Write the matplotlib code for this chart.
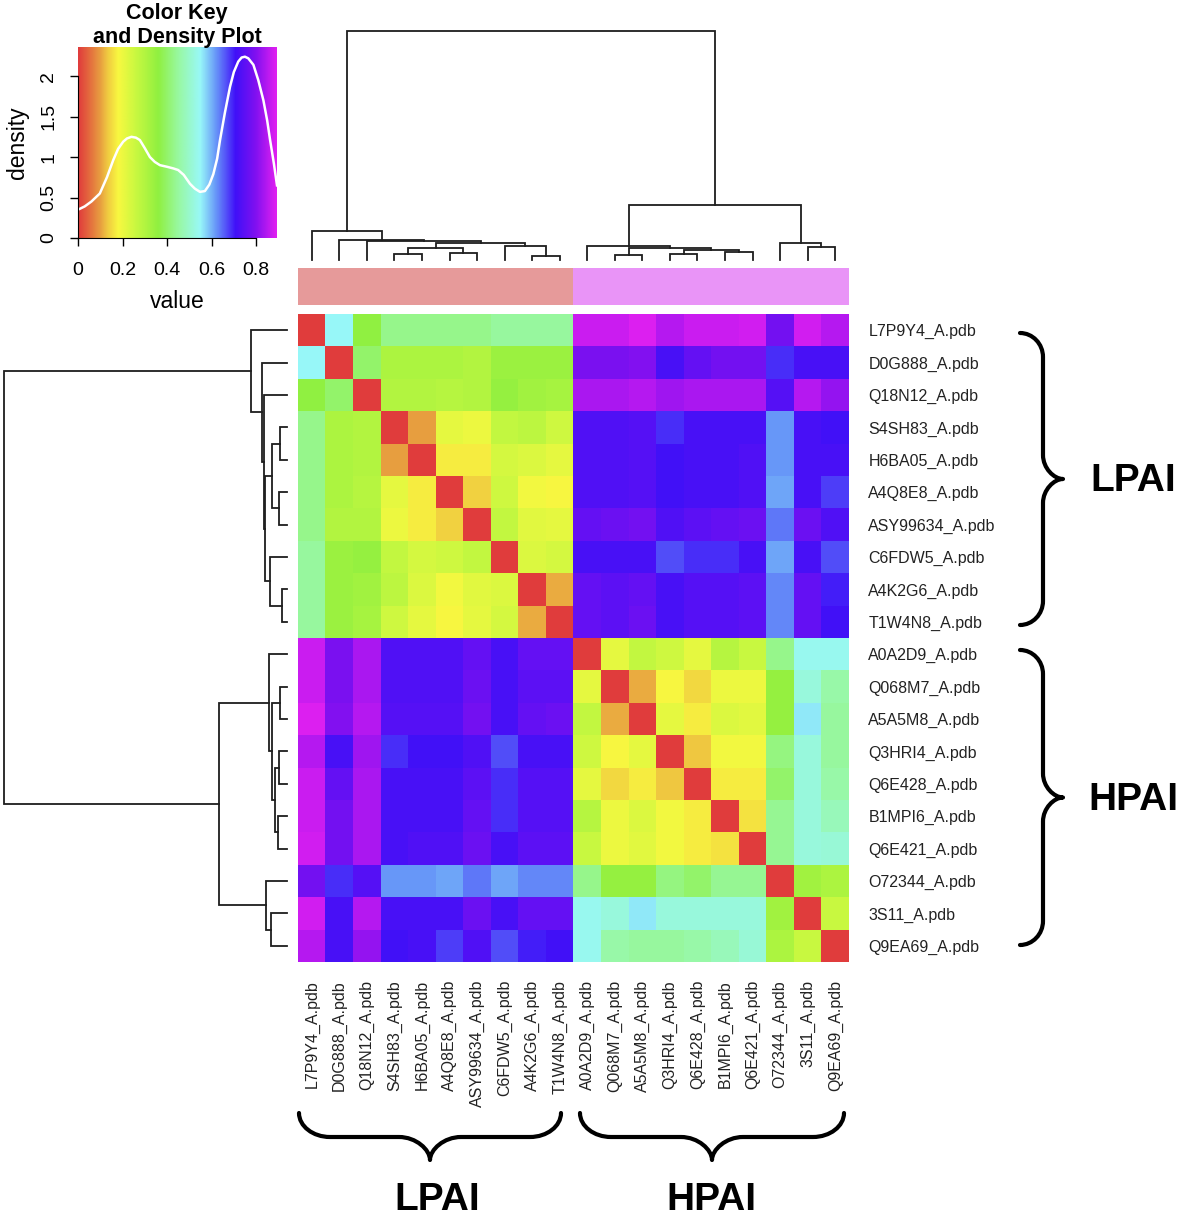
import numpy as np
import matplotlib
matplotlib.use("Agg")
import matplotlib.pyplot as plt
from matplotlib.colors import LinearSegmentedColormap, to_rgb
from matplotlib.path import Path
from matplotlib.patches import PathPatch

plt.rcParams['font.family'] = ['Liberation Sans', 'DejaVu Sans']

# ---------------- data ----------------
labels = ["L7P9Y4_A.pdb", "D0G888_A.pdb", "Q18N12_A.pdb", "S4SH83_A.pdb", "H6BA05_A.pdb",
          "A4Q8E8_A.pdb", "ASY99634_A.pdb", "C6FDW5_A.pdb", "A4K2G6_A.pdb", "T1W4N8_A.pdb",
          "A0A2D9_A.pdb", "Q068M7_A.pdb", "A5A5M8_A.pdb", "Q3HRI4_A.pdb", "Q6E428_A.pdb",
          "B1MPI6_A.pdb", "Q6E421_A.pdb", "O72344_A.pdb", "3S11_A.pdb", "Q9EA69_A.pdb"]
groups = ["LPAI"] * 10 + ["HPAI"] * 10

# LPAI x LPAI distances
lpai_block = [
    [0.00, 0.55, 0.36, 0.43, 0.43, 0.43, 0.43, 0.45, 0.45, 0.45],
    [0.55, 0.00, 0.40, 0.31, 0.31, 0.31, 0.30, 0.34, 0.34, 0.34],
    [0.36, 0.40, 0.00, 0.30, 0.30, 0.29, 0.30, 0.35, 0.33, 0.32],
    [0.43, 0.31, 0.30, 0.00, 0.10, 0.21, 0.20, 0.27, 0.28, 0.25],
    [0.43, 0.31, 0.30, 0.10, 0.00, 0.17, 0.17, 0.24, 0.23, 0.21],
    [0.43, 0.31, 0.29, 0.21, 0.17, 0.00, 0.14, 0.25, 0.19, 0.18],
    [0.43, 0.30, 0.30, 0.20, 0.17, 0.14, 0.00, 0.27, 0.22, 0.21],
    [0.45, 0.34, 0.35, 0.27, 0.24, 0.25, 0.27, 0.00, 0.23, 0.24],
    [0.45, 0.34, 0.33, 0.28, 0.23, 0.19, 0.22, 0.23, 0.00, 0.11],
    [0.45, 0.34, 0.32, 0.25, 0.21, 0.18, 0.21, 0.24, 0.11, 0.00],
]
# HPAI x HPAI distances
hpai_block = [
    [0.00, 0.21, 0.27, 0.25, 0.21, 0.29, 0.26, 0.43, 0.54, 0.54],
    [0.21, 0.00, 0.11, 0.18, 0.15, 0.20, 0.20, 0.35, 0.52, 0.46],
    [0.27, 0.11, 0.00, 0.21, 0.17, 0.23, 0.22, 0.35, 0.56, 0.45],
    [0.25, 0.18, 0.21, 0.00, 0.13, 0.19, 0.19, 0.42, 0.52, 0.45],
    [0.21, 0.15, 0.17, 0.13, 0.00, 0.17, 0.17, 0.40, 0.52, 0.46],
    [0.29, 0.20, 0.23, 0.19, 0.17, 0.00, 0.16, 0.44, 0.52, 0.48],
    [0.26, 0.20, 0.22, 0.19, 0.17, 0.16, 0.00, 0.44, 0.52, 0.51],
    [0.43, 0.35, 0.35, 0.42, 0.40, 0.44, 0.44, 0.00, 0.33, 0.31],
    [0.54, 0.52, 0.56, 0.52, 0.52, 0.52, 0.52, 0.33, 0.00, 0.26],
    [0.54, 0.46, 0.45, 0.45, 0.46, 0.48, 0.51, 0.31, 0.26, 0.00],
]
# LPAI rows x HPAI columns
cross_block = [
    [0.87, 0.87, 0.89, 0.85, 0.87, 0.87, 0.88, 0.78, 0.88, 0.85],
    [0.79, 0.79, 0.80, 0.72, 0.76, 0.78, 0.78, 0.69, 0.72, 0.72],
    [0.84, 0.84, 0.85, 0.83, 0.84, 0.84, 0.84, 0.74, 0.85, 0.82],
    [0.73, 0.73, 0.74, 0.69, 0.72, 0.72, 0.72, 0.62, 0.72, 0.71],
    [0.73, 0.73, 0.74, 0.71, 0.72, 0.72, 0.73, 0.62, 0.72, 0.72],
    [0.73, 0.73, 0.74, 0.71, 0.72, 0.72, 0.73, 0.61, 0.72, 0.68],
    [0.76, 0.77, 0.78, 0.73, 0.75, 0.76, 0.77, 0.64, 0.77, 0.73],
    [0.72, 0.72, 0.72, 0.67, 0.69, 0.69, 0.72, 0.61, 0.72, 0.67],
    [0.76, 0.75, 0.76, 0.72, 0.74, 0.74, 0.75, 0.63, 0.76, 0.70],
    [0.76, 0.75, 0.77, 0.72, 0.74, 0.74, 0.75, 0.63, 0.76, 0.71],
]

# dendrogram merges: (left, right, height); str = leaf label, int = earlier merge
merges = [
    ("S4SH83_A.pdb", "H6BA05_A.pdb", 0.025),   # 0
    ("A4Q8E8_A.pdb", "ASY99634_A.pdb", 0.030), # 1
    (0, 1, 0.052),                             # 2
    ("A4K2G6_A.pdb", "T1W4N8_A.pdb", 0.018),   # 3
    ("C6FDW5_A.pdb", 3, 0.059),                # 4
    (2, 4, 0.076),                             # 5
    ("Q18N12_A.pdb", 5, 0.081),                # 6
    ("D0G888_A.pdb", 6, 0.087),                # 7
    ("L7P9Y4_A.pdb", 7, 0.128),                # 8
    ("Q068M7_A.pdb", "A5A5M8_A.pdb", 0.024),   # 9
    ("Q3HRI4_A.pdb", "Q6E428_A.pdb", 0.028),   # 10
    ("B1MPI6_A.pdb", "Q6E421_A.pdb", 0.033),   # 11
    (10, 11, 0.044),                           # 12
    (9, 12, 0.054),                            # 13
    ("A0A2D9_A.pdb", 13, 0.063),               # 14
    ("3S11_A.pdb", "Q9EA69_A.pdb", 0.058),     # 15
    ("O72344_A.pdb", 15, 0.075),               # 16
    (14, 16, 0.240),                           # 17
    (8, 17, 1.000),                            # 18
]

# colour key
key_values = [0.00, 0.05, 0.10, 0.13, 0.18, 0.26, 0.36, 0.45, 0.55, 0.62, 0.71, 0.80, 0.894]
key_colors = ["#e03c3c", "#e46c3e", "#e8a040", "#f0c840", "#f8f840", "#c8f840", "#90f040",
              "#98f8a0", "#98f8f8", "#6898f8", "#4010f8", "#8010f0", "#e020f0"]
density_x = [0.0, 0.03, 0.06, 0.098, 0.13, 0.158, 0.18, 0.203, 0.22, 0.24, 0.26, 0.278,
             0.30, 0.323, 0.345, 0.368, 0.40, 0.428, 0.45, 0.475, 0.503, 0.525, 0.548,
             0.57, 0.59, 0.608, 0.625, 0.638, 0.66, 0.683, 0.70, 0.72, 0.735, 0.75,
             0.765, 0.788, 0.81, 0.833, 0.85, 0.863, 0.88, 0.894]
density_y = [0.35, 0.39, 0.45, 0.55, 0.75, 0.96, 1.10, 1.19, 1.23, 1.25, 1.24, 1.21,
             1.11, 1.00, 0.94, 0.90, 0.88, 0.86, 0.84, 0.78, 0.67, 0.61, 0.57,
             0.58, 0.66, 0.79, 0.98, 1.21, 1.55, 1.87, 2.05, 2.18, 2.23, 2.24,
             2.22, 2.14, 1.95, 1.70, 1.45, 1.21, 0.92, 0.65]
group_colors = {"LPAI": "#e69a9a", "HPAI": "#e994f7"}

# ---------------- build ----------------
n = len(labels)
M = np.zeros((n, n))
M[:10, :10] = np.array(lpai_block)
M[10:, 10:] = np.array(hpai_block)
M[:10, 10:] = np.array(cross_block)
M[10:, :10] = np.array(cross_block).T

vmax = key_values[-1]
cmap = LinearSegmentedColormap.from_list(
    "key", [(v / vmax, c) for v, c in zip(key_values, key_colors)])

W, H = 1181, 1221
fig = plt.figure(figsize=(W / 100, H / 100), dpi=100)


def rect(x0, y0, x1, y1):
    return [x0 / W, 1 - y1 / H, (x1 - x0) / W, (y1 - y0) / H]


# heatmap
axh = fig.add_axes(rect(298, 314, 849, 962))
axh.imshow(M, cmap=cmap, vmin=0, vmax=vmax, aspect='auto', interpolation='nearest')
axh.set_xticks(range(n))
axh.set_xticklabels(labels, rotation=90, fontsize=11.5, color='#222222')
axh.set_yticks(range(n))
axh.set_yticklabels(labels, fontsize=11.5, color='#222222')
axh.yaxis.tick_right()
axh.tick_params(axis='x', length=0, pad=13)
axh.tick_params(axis='y', length=0, pad=14)
for s in axh.spines.values():
    s.set_visible(False)

# column side colours
axs = fig.add_axes(rect(298, 268, 849, 305))
rgb = np.array([[to_rgb(group_colors[g]) for g in groups]])
axs.imshow(rgb, aspect='auto', interpolation='nearest')
axs.axis('off')

# dendrograms
pos = {lab: i for i, lab in enumerate(labels)}
hts = {lab: 0.0 for lab in labels}
segs = []
for k, (l, r, h) in enumerate(merges):
    xl, xr = pos[l], pos[r]
    hl, hr = hts[l], hts[r]
    segs.append(([xl, xl, xr, xr], [hl, h, h, hr]))
    pos[k] = (xl + xr) / 2
    hts[k] = h

dcol = '#1e1e1e'
axc = fig.add_axes(rect(298, 31, 849, 260))
for xs, hs in segs:
    axc.plot(xs, hs, color=dcol, lw=1.3, solid_joinstyle='miter', clip_on=False)
axc.set_xlim(-0.5, n - 0.5)
axc.set_ylim(0, 1)
axc.axis('off')

axr = fig.add_axes(rect(4, 314, 287, 962))
for xs, hs in segs:
    axr.plot(hs, xs, color=dcol, lw=1.3, solid_joinstyle='miter', clip_on=False)
axr.set_xlim(1, 0)
axr.set_ylim(n - 0.5, -0.5)
axr.axis('off')

# colour key + density
axk = fig.add_axes(rect(78, 47, 277, 238))
grad = np.linspace(0, vmax, 400).reshape(1, -1)
axk.imshow(grad, cmap=cmap, vmin=0, vmax=vmax, aspect='auto',
           extent=(0, vmax, 0, 2.36), interpolation='bilinear')
axk.plot(density_x, density_y, color='white', lw=1.8, solid_joinstyle='round')
axk.set_xlim(0, vmax)
axk.set_ylim(0, 2.36)
for side in ['top', 'right']:
    axk.spines[side].set_visible(False)
axk.spines['bottom'].set_bounds(0, 0.8)
axk.spines['left'].set_bounds(0, 2)
axk.set_xticks([0, 0.2, 0.4, 0.6, 0.8])
axk.set_xticklabels(["0", "0.2", "0.4", "0.6", "0.8"], fontsize=14)
axk.set_yticks([0, 0.5, 1, 1.5, 2])
axk.set_yticklabels(["0", "0.5", "1", "1.5", "2"], fontsize=14, rotation=90, va='center')
axk.tick_params(axis='x', direction='out', length=6, width=1, pad=11)
axk.tick_params(axis='y', direction='out', length=6, width=1, pad=9)
axk.set_xlabel("value", fontsize=16.5, labelpad=8)
axk.set_ylabel("density", fontsize=16.5, labelpad=8)
fig.text(177 / W, 1 - 13 / H, "Color Key", ha='center', va='center', fontsize=15.5, fontweight='bold')
fig.text(177 / W, 1 - 38 / H, "and Density Plot", ha='center', va='center', fontsize=15.5, fontweight='bold')

# braces and group text overlay (pixel coordinates)
axo = fig.add_axes([0, 0, 1, 1])
axo.set_xlim(0, W)
axo.set_ylim(H, 0)
axo.axis('off')
axo.patch.set_alpha(0)


def brace(p0, p1, nvec, h, w, a):
    p0 = np.array(p0, float)
    p1 = np.array(p1, float)
    L = np.linalg.norm(p1 - p0)
    u = (p1 - p0) / L
    nv = np.array(nvec, float)
    loc = [(0, 0), (0, 0.55 * h), (0.45 * a, h), (a, h),
           (L / 2 - a, h),
           (L / 2 - 0.45 * a, h), (L / 2, h + 0.55 * (w - h)), (L / 2, w),
           (L / 2, h + 0.55 * (w - h)), (L / 2 + 0.45 * a, h), (L / 2 + a, h),
           (L - a, h),
           (L - 0.45 * a, h), (L, 0.55 * h), (L, 0)]
    codes = [Path.MOVETO, Path.CURVE4, Path.CURVE4, Path.CURVE4, Path.LINETO,
             Path.CURVE4, Path.CURVE4, Path.CURVE4, Path.CURVE4, Path.CURVE4, Path.CURVE4,
             Path.LINETO, Path.CURVE4, Path.CURVE4, Path.CURVE4]
    pts = [p0 + u * s + nv * t for s, t in loc]
    axo.add_patch(PathPatch(Path(pts, codes), fill=False, lw=3.0, color='black',
                            capstyle='round', joinstyle='round'))


brace((1020, 333), (1020, 625), (1, 0), 23, 43, 24)
brace((1020, 650), (1020, 945), (1, 0), 23, 43, 24)
brace((299, 1113), (561, 1113), (0, 1), 24, 47, 31)
brace((580, 1113), (844, 1113), (0, 1), 24, 47, 31)

axo.text(1090, 481, "LPAI", ha='left', va='center', fontsize=28, fontweight='bold')
axo.text(1088, 800, "HPAI", ha='left', va='center', fontsize=28, fontweight='bold')
axo.text(437, 1200, "LPAI", ha='center', va='center', fontsize=28, fontweight='bold')
axo.text(711, 1200, "HPAI", ha='center', va='center', fontsize=28, fontweight='bold')

fig.savefig("out.png", dpi=100)
